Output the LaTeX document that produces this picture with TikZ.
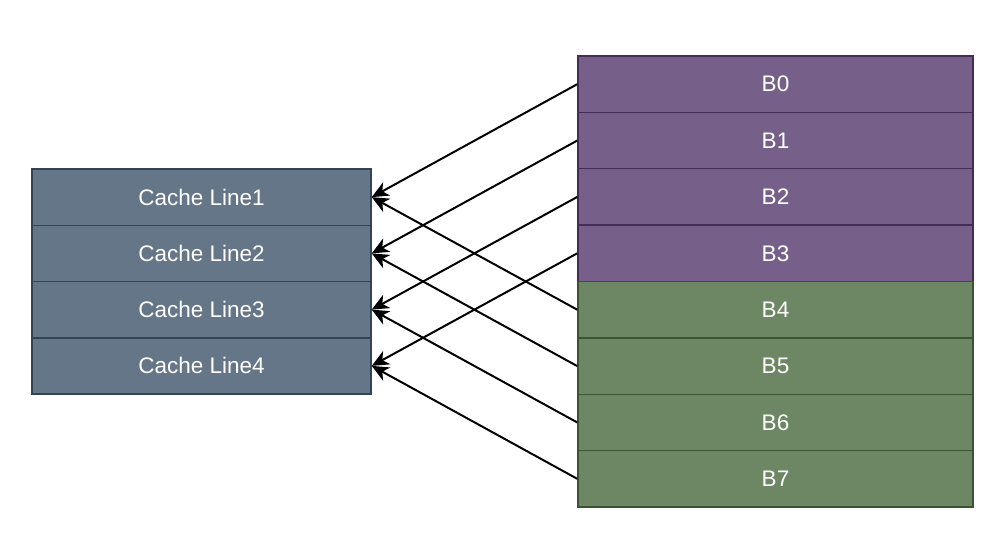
\documentclass[tikz,border=0pt]{standalone}
\usepackage{fontspec}
\setmainfont{Liberation Sans}
\usetikzlibrary{arrows.meta}
\definecolor{slatefill}{HTML}{647687}
\definecolor{slatedraw}{HTML}{314354}
\definecolor{purpfill}{HTML}{76608A}
\definecolor{purpdraw}{HTML}{432D57}
\definecolor{greenfill}{HTML}{6D8764}
\definecolor{greendraw}{HTML}{3A5431}
\tikzset{
  box/.style={rectangle, draw, line width=1.5pt, text=white, font=\fontsize{22.5}{26}\selectfont, inner sep=0pt},
  cacheline/.style={box, fill=slatefill, draw=slatedraw, minimum width=339pt, minimum height=56.25pt},
  purpblock/.style={box, fill=purpfill, draw=purpdraw, minimum width=395pt, minimum height=56.375pt},
  greenblock/.style={box, fill=greenfill, draw=greendraw, minimum width=395pt, minimum height=56.375pt},
  conn/.style={draw=black, line width=2pt, -{Stealth[length=17pt,width=15pt,inset=5pt]}}
}
\begin{document}
\begin{tikzpicture}[x=1pt,y=1pt]
\useasboundingbox (0,0) rectangle (996,542);
\foreach \i in {1,2,3,4} {
  \node[cacheline] (c\i) at (201.5, {542-169-56.25*(\i-0.5)}) {Cache Line\i};
}
\foreach \i in {0,1,2,3} {
  \node[purpblock] (b\i) at (775.5, {542-56-56.375*(\i+0.5)}) {B\i};
}
\foreach \i in {4,5,6,7} {
  \node[greenblock] (b\i) at (775.5, {542-56-56.375*(\i+0.5)}) {B\i};
}
\draw[conn] (b0.west) -- (c1.east);
\draw[conn] (b1.west) -- (c2.east);
\draw[conn] (b2.west) -- (c3.east);
\draw[conn] (b3.west) -- (c4.east);
\draw[conn] (b4.west) -- (c1.east);
\draw[conn] (b5.west) -- (c2.east);
\draw[conn] (b6.west) -- (c3.east);
\draw[conn] (b7.west) -- (c4.east);
\end{tikzpicture}
\end{document}
